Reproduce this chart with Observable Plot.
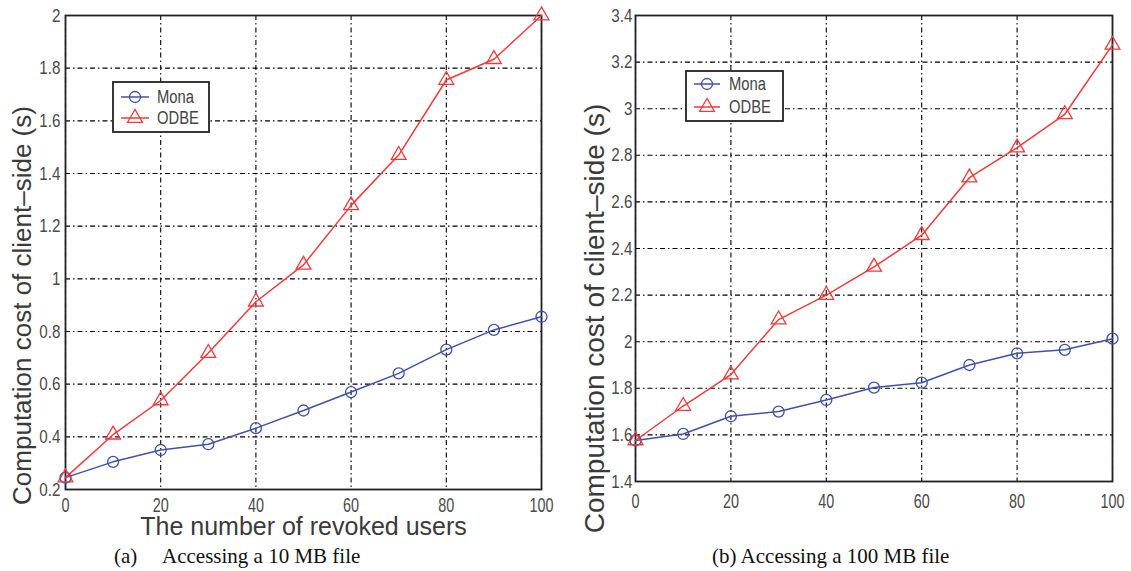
<!DOCTYPE html>
<html>
<head>
<meta charset="utf-8">
<script src="https://cdn.jsdelivr.net/npm/d3@7"></script>
<script src="https://cdn.jsdelivr.net/npm/@observablehq/plot@0.6"></script>
<style>
  html, body { margin: 0; padding: 0; background: #fff; }
  #wrap { position: relative; width: 1131px; height: 571px; overflow: hidden; }
  .panel { position: absolute; top: 0; }
  .cap { position: absolute; top: 546px; font-family: "Liberation Serif", "Times New Roman", serif; font-size: 21px; line-height: 21px; color: #111; white-space: nowrap; }
</style>
</head>
<body>
<div id="wrap">
  <div id="pa" class="panel" style="left:0px"></div>
  <div id="pb" class="panel" style="left:560px"></div>
  <div class="cap" style="left:114px">(a)</div>
  <div class="cap" style="left:162px">Accessing a 10 MB file</div>
  <div class="cap" style="left:712px">(b) Accessing a 100 MB file</div>
</div>
<script>
// ---- data ----
const users = [0, 10, 20, 30, 40, 50, 60, 70, 80, 90, 100];
const seriesNames = ["Mona", "ODBE"];
const monaA = [0.245, 0.305, 0.35, 0.372, 0.433, 0.50, 0.57, 0.641, 0.731, 0.806, 0.856];
const odbeA = [0.245, 0.408, 0.538, 0.718, 0.913, 1.053, 1.279, 1.47, 1.755, 1.834, 2.0];
const monaB = [1.576, 1.604, 1.68, 1.70, 1.75, 1.803, 1.824, 1.90, 1.95, 1.965, 2.013];
const odbeB = [1.576, 1.724, 1.859, 2.095, 2.2, 2.321, 2.457, 2.704, 2.833, 2.976, 3.274];
const xTicks = [0, 20, 40, 60, 80, 100];
const yTicksA = [0.2, 0.4, 0.6, 0.8, 1, 1.2, 1.4, 1.6, 1.8, 2];
const yTicksB = [1.4, 1.6, 1.8, 2, 2.2, 2.4, 2.6, 2.8, 3, 3.2, 3.4];
const yLabel = "Computation cost of client\u2013side (s)";
const xLabel = "The number of revoked users";

const colors = ["#3f52a8", "#f03a3a"];
const symbols = ["circle", "triangle"];

function rows(mona, odbe) {
  const out = [];
  users.forEach((u, i) => {
    out.push({users: u, value: mona[i], series: "Mona"});
  });
  users.forEach((u, i) => {
    out.push({users: u, value: odbe[i], series: "ODBE"});
  });
  return out;
}

const dash = "5,3,1.5,3";
const fmt = d3.format("~g");

function makePlot(o) {
  const data = rows(o.mona, o.odbe);
  const marks = [
    Plot.gridX(xTicks, {stroke: "#000", strokeOpacity: 1, strokeWidth: 1.1, strokeDasharray: dash}),
    Plot.gridY(o.yTicks, {stroke: "#000", strokeOpacity: 1, strokeWidth: 1.1, strokeDasharray: dash}),
    Plot.axisX(xTicks, {tickSize: 0, tickPadding: o.xPad, fontSize: 20, fill: "#4a4a4a", label: null, tickFormat: fmt}),
    Plot.axisY(o.yTicks, {tickSize: 0, tickPadding: o.yPad, fontSize: 19, fill: "#4a4a4a", label: null, tickFormat: fmt}),
    Plot.frame({stroke: "#222", strokeWidth: 1.8}),
    Plot.line(data, {x: "users", y: "value", z: "series", stroke: "series", strokeWidth: 1.5}),
    Plot.dot(data, {x: "users", y: "value", stroke: "series", symbol: "series", r: o.r, fill: "none", strokeWidth: 1.3}),
    Plot.text([yLabel], {frameAnchor: "left", textAnchor: "middle", rotate: -90, dx: o.ylDx, dy: o.ylDy, fontSize: o.ylSize, fill: "#3a3a3a"})
  ];
  if (o.xl) {
    marks.push(Plot.text([xLabel], {frameAnchor: "bottom", textAnchor: "middle", lineAnchor: "bottom", dy: 45, fontSize: 25, fill: "#3a3a3a", ariaLabel: "xlabel"}));
  }
  return Plot.plot({
    width: o.width, height: 540,
    marginLeft: o.ml, marginRight: 19, marginTop: 15, marginBottom: o.mb,
    style: {background: "transparent", fontFamily: "'Liberation Sans', Arial, sans-serif", overflow: "visible"},
    x: {domain: [0, 100]},
    y: {domain: o.yDomain},
    color: {domain: seriesNames, range: colors},
    symbol: {domain: seriesNames, range: symbols},
    marks
  });
}

function condense(svg, label, ratio, length) {
  d3.select(svg).selectAll(`g[aria-label="${label}"] text`).each(function() {
    const w = this.getComputedTextLength();
    this.setAttribute("textLength", length || w * ratio);
    this.setAttribute("lengthAdjust", "spacingAndGlyphs");
  });
}

function addLegend(svg, x, y, w, h, rowYs, lineX0, lineX1, textX) {
  const g = d3.select(svg).append("g").attr("aria-label", "legend").attr("text-anchor", "start");
  g.append("rect").attr("x", x).attr("y", y).attr("width", w).attr("height", h)
    .attr("fill", "#fff").attr("stroke", "#222").attr("stroke-width", 1.8);
  seriesNames.forEach((s, i) => {
    const yy = rowYs[i];
    g.append("line").attr("x1", lineX0).attr("x2", lineX1).attr("y1", yy).attr("y2", yy)
      .attr("stroke", colors[i]).attr("stroke-width", 1.5);
    const sym = i === 0 ? d3.symbolCircle : d3.symbolTriangle;
    g.append("path").attr("d", d3.symbol(sym, 5.5 * 5.5 * Math.PI)())
      .attr("transform", `translate(${(lineX0 + lineX1) / 2},${yy})`)
      .attr("fill", "none").attr("stroke", colors[i]).attr("stroke-width", 1.3);
    const t = g.append("text").attr("x", textX).attr("y", yy).attr("dy", "0.35em")
      .attr("text-anchor", "start")
      .attr("font-family", "'Liberation Sans', Arial, sans-serif").attr("font-size", 18)
      .attr("fill", "#444").text(s);
    const el = t.node();
    const wlen = el.getComputedTextLength();
    el.setAttribute("textLength", wlen * 0.82);
    el.setAttribute("lengthAdjust", "spacingAndGlyphs");
  });
}

const plotA = makePlot({width: 560, ml: 65, mb: 51, yDomain: [0.2, 2], yTicks: yTicksA, mona: monaA, odbe: odbeA,
  xPad: 8, yPad: 5, r: 5.5, ylDx: -43, ylDy: 53, ylSize: 26, xl: true});
const plotB = makePlot({width: 571, ml: 75, mb: 59, yDomain: [1.4, 3.4], yTicks: yTicksB, mona: monaB, odbe: odbeB,
  xPad: 12, yPad: 3, r: 5.5, ylDx: -40, ylDy: 70, ylSize: 28, xl: false});

document.getElementById("pa").appendChild(plotA);
document.getElementById("pb").appendChild(plotB);

[plotA, plotB].forEach(p => {
  condense(p, "x-axis tick label", 0.72);
  condense(p, "y-axis tick label", 0.8);
});
condense(plotA, "xlabel", 1, 284);

addLegend(plotA, 113, 82, 96, 50, [97, 118], 121, 149, 157);
addLegend(plotB, 126, 71, 97, 50, [84, 107], 134, 160, 169);
</script>
</body>
</html>
